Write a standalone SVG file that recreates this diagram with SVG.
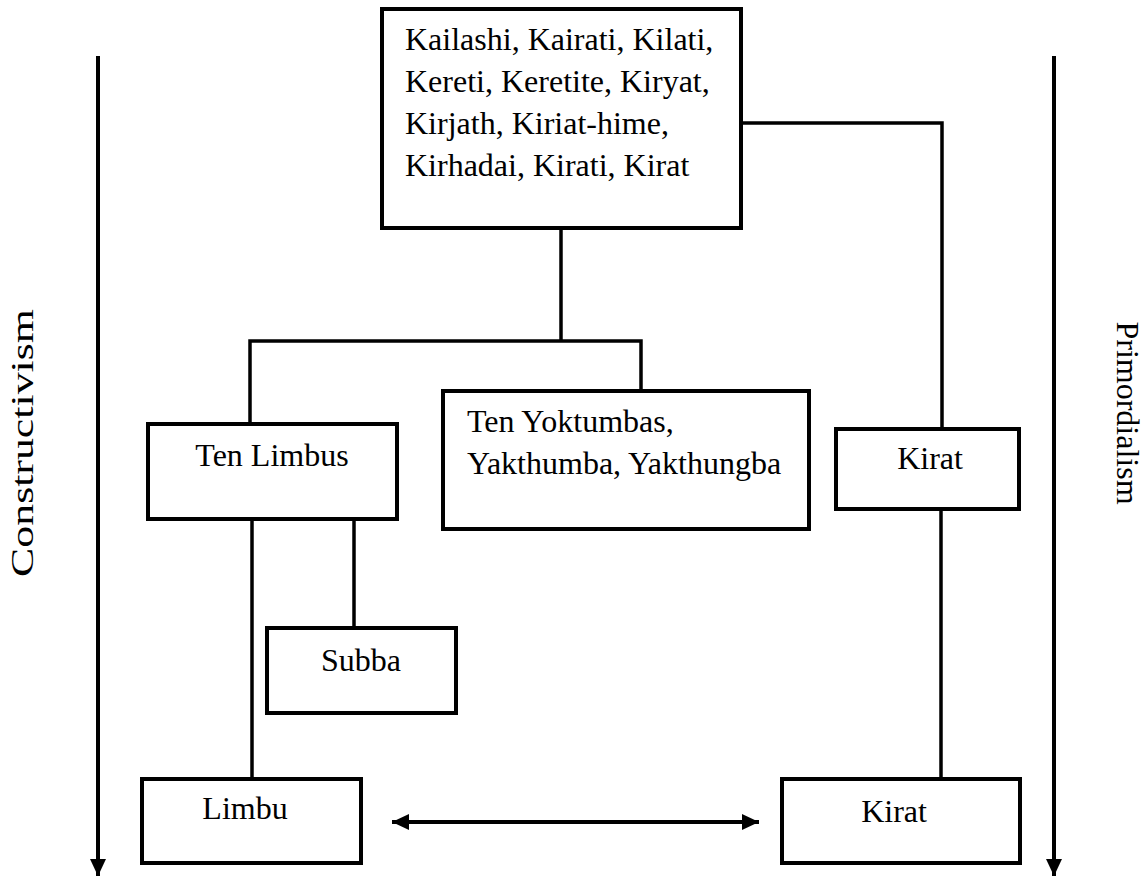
<svg xmlns="http://www.w3.org/2000/svg" width="1148" height="877" viewBox="0 0 1148 877">
  <style>
    .box { fill: #fff; stroke: #000; stroke-width: 4; }
    .con { fill: none; stroke: #000; stroke-width: 3.5; }
    .arr { fill: none; stroke: #000; stroke-width: 4; }
    text { font-family: "Liberation Serif", "Times New Roman", serif; font-size: 32px; fill: #000; }
  </style>
  <defs>
    <marker id="ah" markerUnits="userSpaceOnUse" markerWidth="18" markerHeight="16" refX="17" refY="8" orient="auto-start-reverse">
      <path d="M0,0 L17,8 L0,16 Z" fill="#000"/>
    </marker>
  </defs>
  <rect width="1148" height="877" fill="#fff"/>

  <g id="connectors">
    <polyline class="con" points="741,123 942,123 942,429"/>
    <polyline class="con" points="561,228 561,341"/>
    <polyline class="con" points="250,424 250,341 641,341 641,391"/>
    <line class="con" x1="252" y1="519" x2="252" y2="779"/>
    <line class="con" x1="354" y1="517" x2="354" y2="628"/>
    <line class="con" x1="941" y1="509" x2="941" y2="779"/>
    <line class="arr" x1="392" y1="822" x2="759" y2="822" marker-start="url(#ah)" marker-end="url(#ah)"/>
    <line class="arr" x1="98" y1="56" x2="98" y2="876" marker-end="url(#ah)"/>
    <line class="arr" x1="1054" y1="56" x2="1054" y2="876" marker-end="url(#ah)"/>
  </g>

  <g id="axis-left">
    <text transform="translate(33,443) rotate(-90) scale(1.37,1)" text-anchor="middle">Constructivism</text>
  </g>
  <g id="axis-right">
    <text transform="translate(1117,413) rotate(90)" text-anchor="middle">Primordialism</text>
  </g>

  <g id="node-top">
    <rect class="box" x="382" y="9" width="359" height="219"/>
    <text x="405" y="50">Kailashi, Kairati, Kilati,</text>
    <text x="405" y="92">Kereti, Keretite, Kiryat,</text>
    <text x="405" y="134">Kirjath, Kiriat-hime,</text>
    <text x="405" y="176">Kirhadai, Kirati, Kirat</text>
  </g>

  <g id="node-ten-limbus">
    <rect class="box" x="148" y="424" width="249" height="95"/>
    <text x="272" y="466" text-anchor="middle">Ten Limbus</text>
  </g>

  <g id="node-yoktumbas">
    <rect class="box" x="443" y="391" width="366" height="138"/>
    <text x="467" y="432">Ten Yoktumbas,</text>
    <text x="467" y="474">Yakthumba, Yakthungba</text>
  </g>

  <g id="node-kirat-top">
    <rect class="box" x="836" y="429" width="183" height="80"/>
    <text x="930" y="469" text-anchor="middle">Kirat</text>
  </g>

  <g id="node-subba">
    <rect class="box" x="267" y="628" width="189" height="85"/>
    <text x="361" y="671" text-anchor="middle">Subba</text>
  </g>

  <g id="node-limbu">
    <rect class="box" x="142" y="779" width="219" height="84"/>
    <text x="245" y="819" text-anchor="middle">Limbu</text>
  </g>

  <g id="node-kirat-bottom">
    <rect class="box" x="782" y="779" width="238" height="84"/>
    <text x="894" y="822" text-anchor="middle">Kirat</text>
  </g>
</svg>
